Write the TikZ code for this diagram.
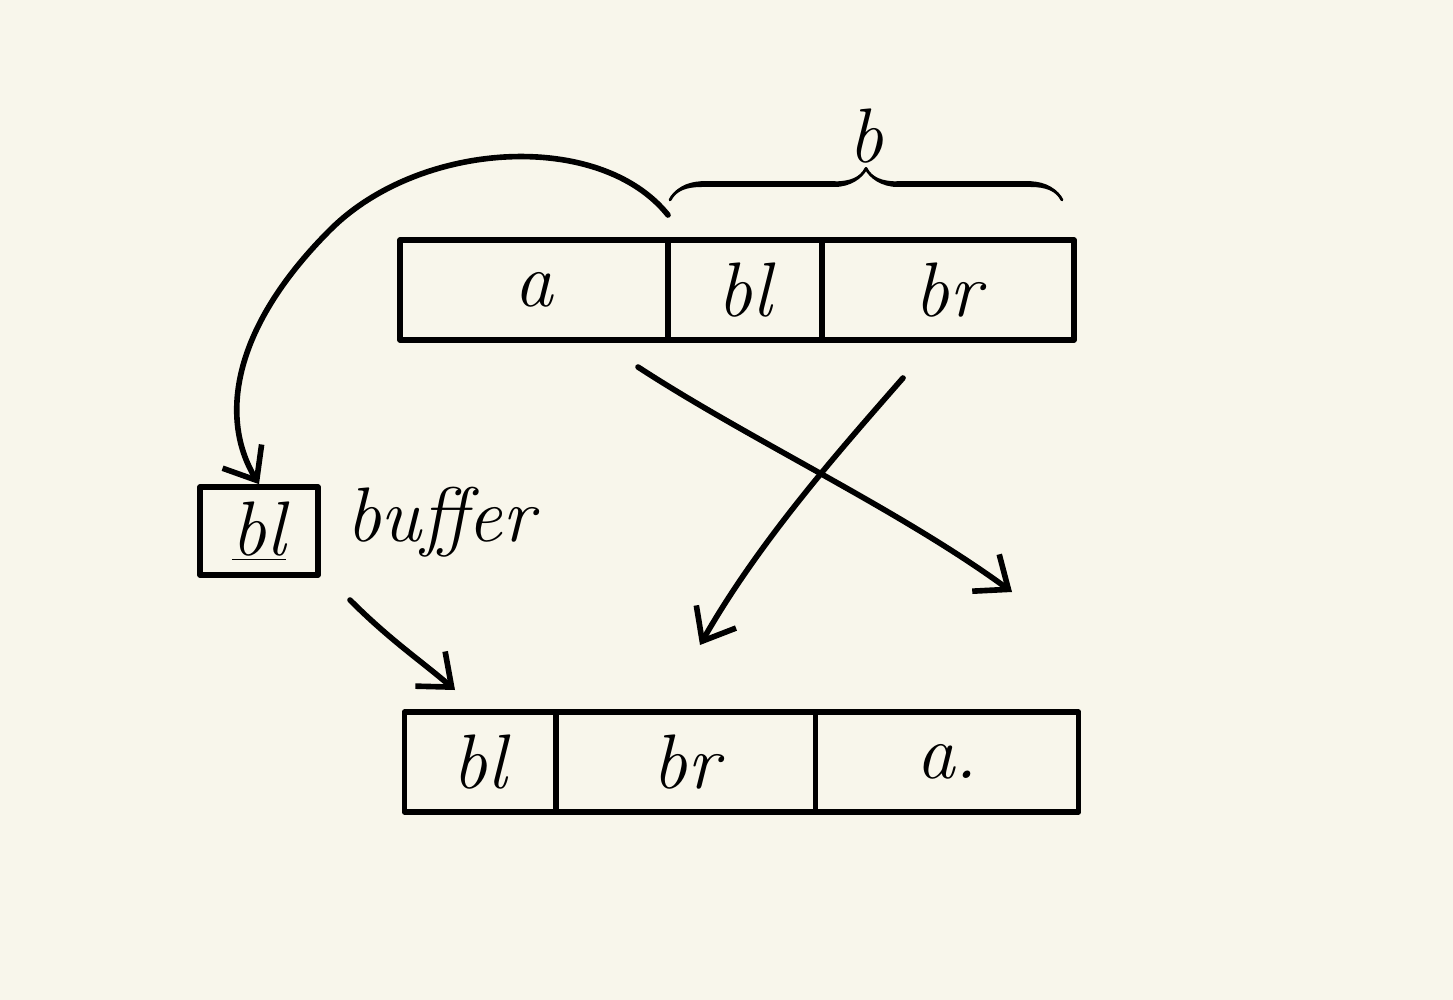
\documentclass[tikz,border=0pt]{standalone}
\usetikzlibrary{decorations.pathreplacing,calligraphy,arrows.meta}
\begin{document}
\begin{tikzpicture}[x=0.02cm,y=-0.02cm,
  ink/.style={line width=3.2pt,line cap=round,line join=round},
  cell/.style={ink,draw,minimum height=2.0cm,inner sep=0pt,font=\fontsize{44}{50}\selectfont\itshape},
  conn/.style={ink,-{Straight Barb[length=16pt,width=26pt,line width=3.2pt]}},
  lbl/.style={font=\fontsize{44}{50}\selectfont\itshape}]
\fill[fill={rgb,255:red,248;green,246;blue,235}] (0,0) rectangle (1453,1000);
% top bar
\node[cell,minimum width=268*0.02cm] (a) at (534,290) {a};
\node[cell,minimum width=154*0.02cm] (bl) at (745,290) {bl};
\node[cell,minimum width=252*0.02cm] (br) at (948,290) {br};
% brace
\draw[ink,decorate,decoration={calligraphic brace,amplitude=18pt}] (670,200) -- (1062,200) node[midway,above=16pt,lbl] (blab) {b};
% buffer
\node[cell,minimum width=118*0.02cm,minimum height=88*0.02cm] (buf) at (259,531) {\underline{bl}};
\node[lbl,anchor=west] (buftxt) at (340,522) {buffer};
% bottom bar
\node[cell,minimum width=151*0.02cm] (bl2) at (480,762) {bl};
\node[cell,minimum width=259*0.02cm] (br2) at (686,762) {br};
\node[cell,minimum width=263*0.02cm] (a2) at (947,762) {a.};
% arrows
\coordinate (c1) at (668,215);
\draw[conn] (c1) .. controls (600,130) and (420,140) .. (330,230) .. controls (230,330) and (220,420) .. (buf.north);
\coordinate (e0) at (455,690);
\draw[conn] (350,600) .. controls (390,640) and (420,660) .. (e0);
\coordinate (s1) at (638,367);
\coordinate (e1) at (1012,592);
\draw[conn] (s1) .. controls (750,440) and (900,510) .. (e1);
\coordinate (s2) at (903,378);
\coordinate (e2) at (700,645);
\draw[conn] (s2) .. controls (840,450) and (760,540) .. (e2);
\end{tikzpicture}
\end{document}
